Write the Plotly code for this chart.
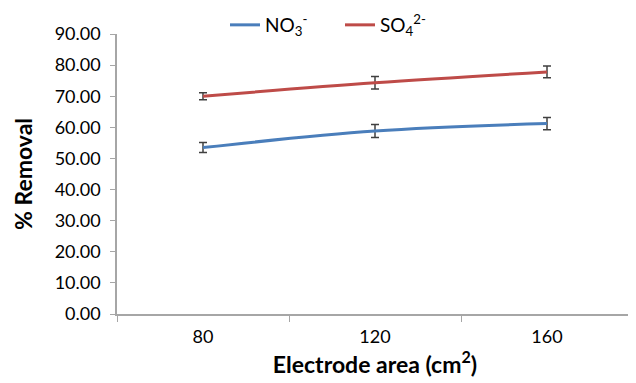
import plotly.graph_objects as go

areas = [80, 120, 160]
no3 = [53.5, 58.8, 61.2]
no3_err = [1.6, 2.1, 2.0]
so4 = [70.0, 74.3, 77.8]
so4_err = [1.1, 2.0, 1.9]
y_ticks = [0, 10, 20, 30, 40, 50, 60, 70, 80, 90]

FONT = "Lato"
W, H = 628, 375  # page body has an 8px offset

fig = go.Figure()
fig.add_trace(go.Scatter(
    x=areas, y=no3, mode="lines", name="NO<sub>3</sub><sup>-</sup>",
    line=dict(color="#4A7EBB", width=3, shape="spline"),
    error_y=dict(type="data", array=no3_err, color="#404040", thickness=1.5, width=4),
))
fig.add_trace(go.Scatter(
    x=areas, y=so4, mode="lines", name="SO<sub>4</sub><sup>2-</sup>",
    line=dict(color="#BE4B48", width=3, shape="spline"),
    error_y=dict(type="data", array=so4_err, color="#404040", thickness=1.5, width=4),
))

fig.update_layout(
    width=W, height=H,
    margin=dict(l=109, r=3, t=26, b=69, autoexpand=False),
    paper_bgcolor="white", plot_bgcolor="white",
    font=dict(family=FONT, size=18, color="black"),
    showlegend=True,
    legend=dict(orientation="h", xref="container", yref="container",
                x=217 / W, y=1 - 17 / H, xanchor="left", yanchor="middle",
                entrywidth=70, font=dict(size=19), tracegroupgap=0,
                bgcolor="rgba(0,0,0,0)"),
    xaxis=dict(
        range=[60, 180], tickvals=areas, ticktext=[str(a) for a in areas],
        ticks="", showgrid=False, zeroline=False, automargin=False,
        showline=True, linecolor="#A6A6A6", linewidth=1.5,
        minor=dict(tick0=60, dtick=40, ticks="outside", ticklen=6, tickcolor="#A6A6A6", showgrid=False),
        title=dict(text="<b>Electrode area (cm<sup>2</sup>)</b>", font=dict(size=23), standoff=10),
        tickfont=dict(size=18), ticklabelstandoff=6,
    ),
    yaxis=dict(
        range=[0, 90], tickvals=y_ticks, tickformat=".2f",
        ticks="outside", ticklen=5, tickcolor="#A6A6A6",
        showgrid=False, zeroline=False, automargin=False,
        showline=True, linecolor="#A6A6A6", linewidth=1.5,
        title=dict(text="<b>% Removal</b>", font=dict(size=23), standoff=16),
        tickfont=dict(size=18), ticklabelstandoff=6,
    ),
)

fig.write_html("out.html")
